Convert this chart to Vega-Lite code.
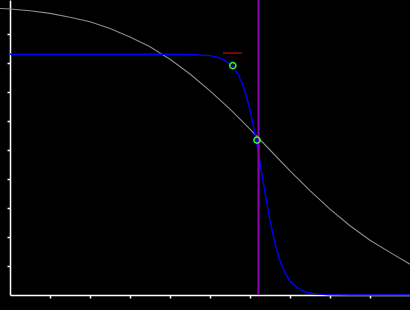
{
  "$schema": "https://vega.github.io/schema/vega-lite/v6.json",
  "width": 400,
  "height": 295,
  "autosize": {"type": "none"},
  "padding": {"left": 10, "top": 0, "right": 0, "bottom": 15},
  "background": "#000000",
  "config": {
    "view": {"stroke": null},
    "axis": {"labels": false, "labelOverlap": false, "grid": false, "title": null, "domainColor": "#ffffff", "domainWidth": 1.5, "tickColor": "#ffffff", "tickSize": 3, "tickWidth": 1.5}
  },
  "datasets": {
    "gray": [
      {"x": -0.25, "v": 0.988}, {"x": 0, "v": 0.986}, {"x": 0.5, "v": 0.980}, {"x": 1, "v": 0.971},
      {"x": 1.5, "v": 0.958}, {"x": 2, "v": 0.942}, {"x": 2.5, "v": 0.919}, {"x": 3, "v": 0.890},
      {"x": 3.5, "v": 0.856}, {"x": 4, "v": 0.813}, {"x": 4.5, "v": 0.762}, {"x": 5, "v": 0.704},
      {"x": 5.5, "v": 0.641}, {"x": 6, "v": 0.572}, {"x": 6.5, "v": 0.500}, {"x": 7, "v": 0.428},
      {"x": 7.5, "v": 0.360}, {"x": 8, "v": 0.296}, {"x": 8.5, "v": 0.239}, {"x": 9, "v": 0.189},
      {"x": 9.5, "v": 0.147}, {"x": 10, "v": 0.106}
    ],
    "blue": [
      {"x": 0, "v": 0.830}, {"x": 2, "v": 0.830}, {"x": 4, "v": 0.830}, {"x": 4.5, "v": 0.8294},
      {"x": 5, "v": 0.8254}, {"x": 5.25, "v": 0.8177}, {"x": 5.5, "v": 0.7975}, {"x": 5.6, "v": 0.7824},
      {"x": 5.7, "v": 0.7610}, {"x": 5.8, "v": 0.7311}, {"x": 5.9, "v": 0.6906}, {"x": 6.0, "v": 0.6379},
      {"x": 6.1, "v": 0.5727}, {"x": 6.2, "v": 0.4969}, {"x": 6.3, "v": 0.415}, {"x": 6.4, "v": 0.3331},
      {"x": 6.5, "v": 0.2573}, {"x": 6.6, "v": 0.1921}, {"x": 6.7, "v": 0.1394}, {"x": 6.8, "v": 0.0989},
      {"x": 6.9, "v": 0.0690}, {"x": 7.0, "v": 0.0476}, {"x": 7.2, "v": 0.0221}, {"x": 7.4, "v": 0.0101},
      {"x": 7.6, "v": 0.0046}, {"x": 7.8, "v": 0.0021}, {"x": 8.0, "v": 0.0009}, {"x": 8.5, "v": 0.0001},
      {"x": 9, "v": 0.0}, {"x": 10, "v": 0.0}
    ],
    "seg": [{"x1": 5.325, "x2": 5.8, "v": 0.834}],
    "vline": [{"x": 6.2125}],
    "pts": [{"x": 5.57, "v": 0.791}, {"x": 6.175, "v": 0.534}]
  },
  "layer": [
    {
      "data": {"name": "gray"},
      "mark": {"type": "line", "color": "#8c8c8c", "strokeWidth": 1.1, "clip": false},
      "encoding": {
        "x": {"field": "x", "type": "quantitative", "scale": {"domain": [0, 10], "nice": false, "zero": false}, "axis": {"values": [1, 2, 3, 4, 5, 6, 7, 8, 9]}},
        "y": {"field": "v", "type": "quantitative", "scale": {"domain": [0, 1.01724], "nice": false}, "axis": {"values": [0.1, 0.2, 0.3, 0.4, 0.5, 0.6, 0.7, 0.8, 0.9], "tickCount": 10}}
      }
    },
    {
      "data": {"name": "seg"},
      "mark": {"type": "rule", "color": "#b00000", "strokeWidth": 1.5},
      "encoding": {
        "x": {"field": "x1", "type": "quantitative"},
        "x2": {"field": "x2"},
        "y": {"field": "v", "type": "quantitative"}
      }
    },
    {
      "data": {"name": "blue"},
      "mark": {"type": "line", "color": "#0000ff", "strokeWidth": 1.4},
      "encoding": {
        "x": {"field": "x", "type": "quantitative"},
        "y": {"field": "v", "type": "quantitative"}
      }
    },
    {
      "data": {"name": "vline"},
      "mark": {"type": "rule", "color": "#9000b0", "strokeWidth": 2},
      "encoding": {
        "x": {"field": "x", "type": "quantitative"}
      }
    },
    {
      "data": {"name": "pts"},
      "mark": {"type": "point", "shape": "circle", "filled": false, "color": "#33ff33", "strokeWidth": 1.5, "size": 38, "opacity": 1},
      "encoding": {
        "x": {"field": "x", "type": "quantitative"},
        "y": {"field": "v", "type": "quantitative"}
      }
    }
  ]
}
